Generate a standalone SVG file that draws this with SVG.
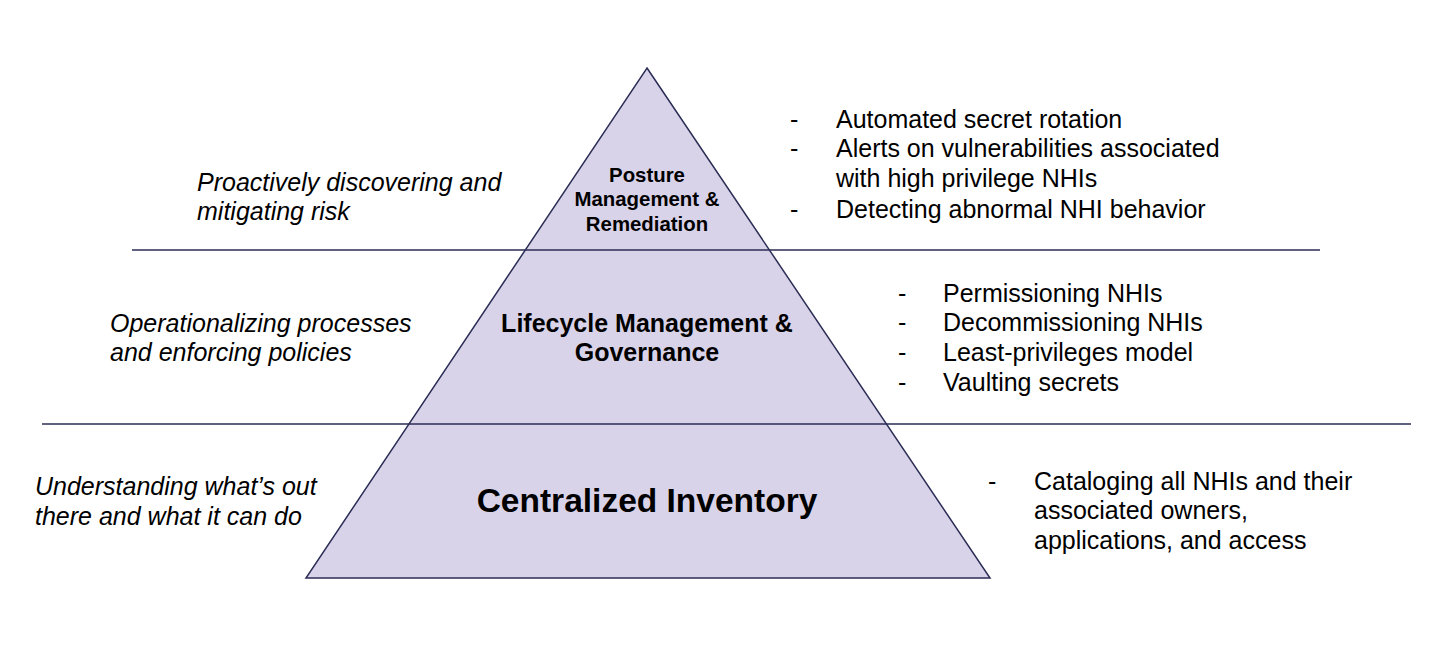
<svg xmlns="http://www.w3.org/2000/svg" width="1442" height="650" viewBox="0 0 1442 650">
<style>
.t{font-family:"Liberation Sans",Arial,sans-serif;fill:#000}
.b{font-weight:bold;text-anchor:middle}
.i{font-style:italic;font-size:25px}
.r{font-size:25px}
.ln{stroke:#2b2d55;stroke-width:1.5;fill:none}
</style>
<rect width="1442" height="650" fill="#ffffff"/>
<g id="pyramid">
<polygon points="647,68 990,578 306,578" fill="#d9d3e9" stroke="#2b2d55" stroke-width="1.5" stroke-linejoin="miter"/>
</g>
<g id="connectors">
<line class="ln" x1="132" y1="250" x2="1320" y2="250"/>
<line class="ln" x1="42" y1="424" x2="1411" y2="424"/>
</g>
<g id="tier-top">
<text class="t b" x="647" font-size="20.4"><tspan x="647" y="182">Posture</tspan><tspan x="647" y="206">Management &amp;</tspan><tspan x="647" y="231">Remediation</tspan></text>
</g>
<g id="tier-middle">
<text class="t b" x="647" font-size="25"><tspan x="647" y="332">Lifecycle Management &amp;</tspan><tspan x="647" y="361">Governance</tspan></text>
</g>
<g id="tier-bottom">
<text class="t b" x="647" y="512" font-size="33.5">Centralized Inventory</text>
</g>
<g id="left-labels">
<text class="t i"><tspan x="197" y="191">Proactively discovering and</tspan><tspan x="197" y="220">mitigating risk</tspan></text>
<text class="t i"><tspan x="110" y="332">Operationalizing processes</tspan><tspan x="110" y="361">and enforcing policies</tspan></text>
<text class="t i"><tspan x="35" y="495">Understanding what’s out</tspan><tspan x="35" y="525">there and what it can do</tspan></text>
</g>
<g id="right-top">
<text class="t r"><tspan x="790" y="128">-</tspan><tspan x="790" y="157">-</tspan><tspan x="790" y="218">-</tspan></text>
<text class="t r"><tspan x="836" y="128">Automated secret rotation</tspan><tspan x="836" y="157">Alerts on vulnerabilities associated</tspan><tspan x="836" y="187">with high privilege NHIs</tspan><tspan x="836" y="218">Detecting abnormal NHI behavior</tspan></text>
</g>
<g id="right-middle">
<text class="t r"><tspan x="898" y="302">-</tspan><tspan x="898" y="331">-</tspan><tspan x="898" y="361">-</tspan><tspan x="898" y="391">-</tspan></text>
<text class="t r"><tspan x="943" y="302">Permissioning NHIs</tspan><tspan x="943" y="331">Decommissioning NHIs</tspan><tspan x="943" y="361">Least-privileges model</tspan><tspan x="943" y="391">Vaulting secrets</tspan></text>
</g>
<g id="right-bottom">
<text class="t r"><tspan x="988" y="490">-</tspan></text>
<text class="t r"><tspan x="1034" y="490">Cataloging all NHIs and their</tspan><tspan x="1034" y="519">associated owners,</tspan><tspan x="1034" y="549">applications, and access</tspan></text>
</g>
</svg>
